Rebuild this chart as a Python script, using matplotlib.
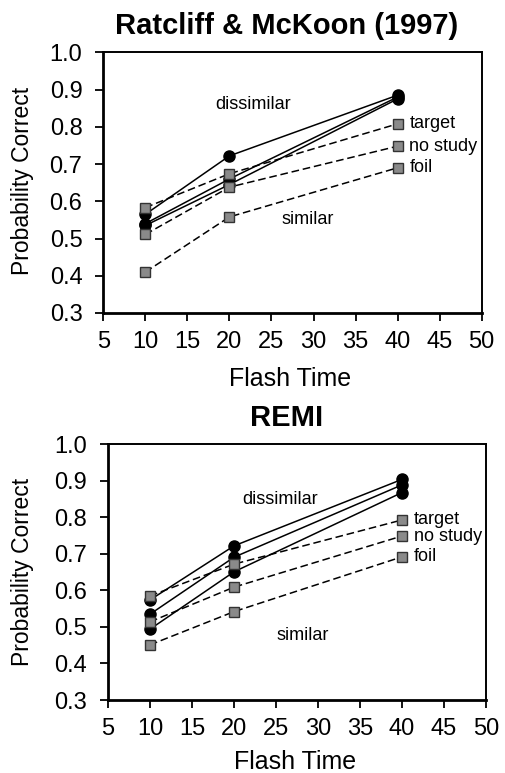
import matplotlib
matplotlib.use("Agg")
import matplotlib.pyplot as plt

plt.rcParams["font.family"] = ["Liberation Sans", "DejaVu Sans"]

flash = [10, 20, 40]
conds = ["target", "no study", "foil"]

# Ratcliff & McKoon (1997)
rm_dissim = {"target": [0.565, 0.722, 0.885],
             "no study": [0.540, 0.660, 0.880],
             "foil": [0.535, 0.645, 0.875]}
rm_sim = {"target": [0.583, 0.674, 0.808],
          "no study": [0.511, 0.638, 0.748],
          "foil": [0.410, 0.558, 0.690]}

# REMI
remi_dissim = {"target": [0.574, 0.722, 0.904],
               "no study": [0.535, 0.691, 0.889],
               "foil": [0.494, 0.651, 0.868]}
remi_sim = {"target": [0.585, 0.672, 0.793],
            "no study": [0.514, 0.609, 0.749],
            "foil": [0.451, 0.542, 0.692]}

x_ticks = [5, 10, 15, 20, 25, 30, 35, 40, 45, 50]
y_ticks = [0.3, 0.4, 0.5, 0.6, 0.7, 0.8, 0.9, 1.0]


def panel(ax, dissim, sim, dis_xy, sim_xy):
    for c in conds:
        ax.plot(flash, dissim[c], "-o", color="black", lw=1.1, ms=8,
                mfc="black", mec="black", zorder=3)
    for c in conds:
        ax.plot(flash, sim[c], "--s", color="black", lw=1.1, ms=7.5,
                mfc="#8a8a8a", mec="#333333", mew=1.0, dashes=(5, 2.5),
                zorder=4)
        ax.text(41.4, sim[c][-1], c, fontsize=13, va="center", ha="left")
    ax.text(*dis_xy, "dissimilar", fontsize=13, ha="center", va="center")
    ax.text(*sim_xy, "similar", fontsize=13, ha="center", va="center")
    ax.set_xlim(5, 50)
    ax.set_ylim(0.3, 1.0)
    ax.set_xticks(x_ticks)
    ax.set_yticks(y_ticks)
    ax.set_yticklabels([f"{v:.1f}" for v in y_ticks])
    ax.tick_params(direction="out", length=6, width=1.3, labelsize=17)
    ax.tick_params(axis="x", pad=7)
    ax.tick_params(axis="y", pad=9)
    for s in ax.spines.values():
        s.set_linewidth(1.4)
    ax.spines["left"].set_linewidth(2.0)
    ax.spines["bottom"].set_linewidth(2.0)


fig = plt.figure(figsize=(5.05, 7.73), dpi=100)
ax1 = fig.add_axes([0.2046, 0.5951, 0.7493, 0.3372])
ax2 = fig.add_axes([0.2139, 0.0944, 0.7485, 0.3308])

panel(ax1, rm_dissim, rm_sim, (22.8, 0.859), (29.3, 0.552))
panel(ax2, remi_dissim, remi_sim, (25.5, 0.849), (28.2, 0.478))

fig.text(0.567, 0.966, "Ratcliff & McKoon (1997)", fontsize=21,
         fontweight="bold", ha="center", va="center")
fig.text(0.568, 0.459, "REMI", fontsize=21, fontweight="bold",
         ha="center", va="center")
fig.text(0.574, 0.5097, "Flash Time", fontsize=18, ha="center", va="center")
fig.text(0.584, 0.0142, "Flash Time", fontsize=18, ha="center", va="center")
fig.text(0.0436, 0.7665, "Probability Correct", fontsize=16.5, rotation=90,
         ha="center", va="center")
fig.text(0.0436, 0.26, "Probability Correct", fontsize=16.5, rotation=90,
         ha="center", va="center")

fig.savefig("out.png", dpi=100)
